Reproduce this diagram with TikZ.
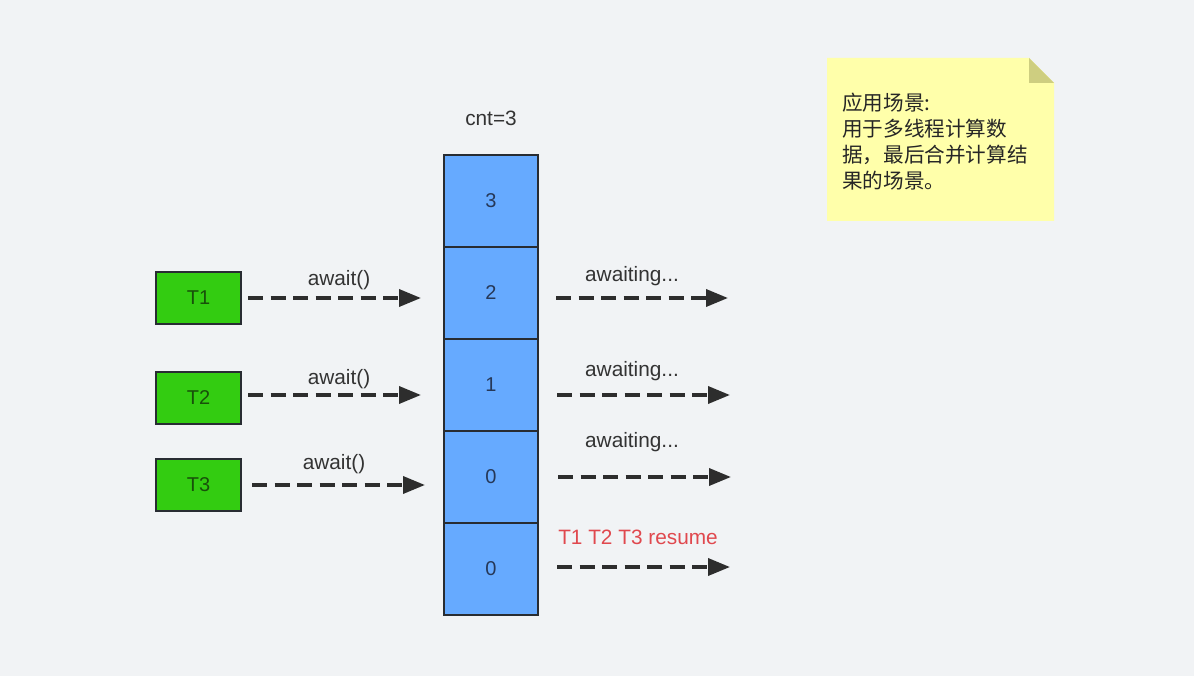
\documentclass[tikz,border=0pt]{standalone}
\usepackage{fontspec}
\setmainfont{Liberation Sans}
\newfontfamily\cjk{Noto Sans CJK SC}
\usetikzlibrary{arrows.meta}
\definecolor{bgc}{RGB}{241,243,245}
\definecolor{cellc}{RGB}{102,170,255}
\definecolor{edgec}{RGB}{40,44,50}
\definecolor{numc}{RGB}{38,56,88}
\definecolor{grn}{RGB}{51,204,17}
\definecolor{grntxt}{RGB}{24,80,10}
\definecolor{notec}{RGB}{255,255,170}
\definecolor{foldc}{RGB}{206,206,128}
\definecolor{redc}{RGB}{224,72,78}
\definecolor{arrc}{RGB}{45,45,45}
\tikzset{
  cellbox/.style={draw=edgec, line width=2.8pt, fill=cellc, minimum width=94pt, minimum height=92pt, inner sep=0pt, text=numc, font=\fontsize{20}{24}\selectfont},
  thread/.style={draw=edgec, line width=2.8pt, fill=grn, minimum width=85pt, minimum height=52pt, inner sep=0pt, text=grntxt, font=\fontsize{20}{24}\selectfont},
  lbl/.style={text=black!80, font=\fontsize{20.8}{24}\selectfont, inner sep=0pt},
  dasharrow/.style={draw=arrc, line width=3.6pt, dash pattern=on 15pt off 7.5pt, -{Triangle[length=22pt,width=17pt]}},
}
\begin{document}
\begin{tikzpicture}[x=1pt,y=-1pt]
\fill[bgc] (0,0) rectangle (1194,676);
\useasboundingbox (0,0) rectangle (1194,676);

% column
\node[cellbox] (c3) at (491,201) {3};
\node[cellbox] (c2) at (491,293) {2};
\node[cellbox] (c1) at (491,385) {1};
\node[cellbox] (c0a) at (491,477) {0};
\node[cellbox] (c0b) at (491,569) {0};
\node[lbl] (cnt) at (491,118) {cnt=3};

% threads
\node[thread] (t1) at (198.5,298) {T1};
\node[thread] (t2) at (198.5,398) {T2};
\node[thread] (t3) at (198.5,485) {T3};

% left arrow endpoints
\coordinate (l1s) at (248,298); \coordinate (l1e) at (421,298);
\coordinate (l2s) at (248,395); \coordinate (l2e) at (421,395);
\coordinate (l3s) at (252,485); \coordinate (l3e) at (425,485);
\draw[dasharrow] (l1s) -- (l1e);
\draw[dasharrow] (l2s) -- (l2e);
\draw[dasharrow] (l3s) -- (l3e);
\node[lbl] (a1) at (339,280) {await()};
\node[lbl] (a2) at (339,379) {await()};
\node[lbl] (a3) at (334,464) {await()};

% right arrows
\coordinate (r1s) at (556,298); \coordinate (r1e) at (728,298);
\coordinate (r2s) at (557,395); \coordinate (r2e) at (730,395);
\coordinate (r3s) at (558,477); \coordinate (r3e) at (731,477);
\coordinate (r4s) at (557,567); \coordinate (r4e) at (730,567);
\draw[dasharrow] (r1s) -- (r1e);
\draw[dasharrow] (r2s) -- (r2e);
\draw[dasharrow] (r3s) -- (r3e);
\draw[dasharrow] (r4s) -- (r4e);
\node[lbl] (w1) at (632,276) {awaiting...};
\node[lbl] (w2) at (632,371) {awaiting...};
\node[lbl] (w3) at (632,442) {awaiting...};
\node[lbl, text=redc] (res) at (638,537) {T1 T2 T3 resume};

% note
\fill[notec] (827,58) -- (1029,58) -- (1054,83) -- (1054,221) -- (827,221) -- cycle;
\fill[foldc] (1029,58) -- (1054,83) -- (1029,83) -- cycle;
\node[anchor=north west, align=left, inner sep=0pt, text=black!85, font=\cjk\fontsize{20.6}{26}\selectfont] (note) at (842,93)
  {应用场景:\\用于多线程计算数\\据，最后合并计算结\\果的场景。};
\end{tikzpicture}
\end{document}
